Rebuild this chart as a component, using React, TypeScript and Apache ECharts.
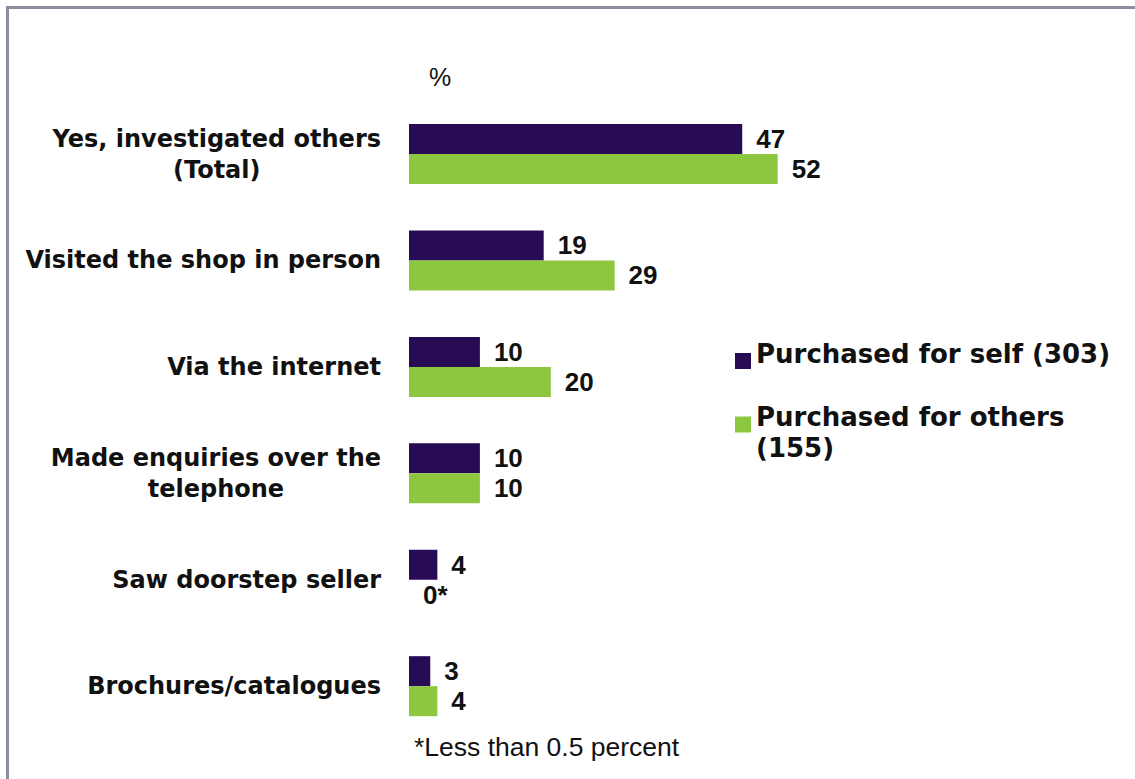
import React, { useEffect, useRef } from "react";
import * as echarts from "echarts";

const categories = [
  "Yes, investigated others\n(Total)",
  "Visited the shop in person",
  "Via the internet",
  "Made enquiries over the\ntelephone",
  "Saw doorstep seller",
  "Brochures/catalogues",
];
const selfValues = [47, 19, 10, 10, 4, 3];
const othersValues = [52, 29, 20, 10, 0, 4];
const othersLabels = ["52", "29", "20", "10", "0*", "4"];
const seriesNames = ["Purchased for self (303)", "Purchased for others (155)"];
const unitLabel = "%";
const footnote = "*Less than 0.5 percent";

const PURPLE = "#280b55";
const GREEN = "#8dc63f";

export default function App() {
  const ref = useRef<HTMLDivElement>(null);
  useEffect(() => {
    if (!ref.current) return;
    const chart = echarts.init(ref.current, null, { renderer: "svg" });
    const labelStyle = {
      show: true,
      position: "right" as const,
      distance: 14,
      fontFamily: "Liberation Sans",
      fontWeight: "bold" as const,
      fontSize: 26,
      color: "#111",
    };
    const legendText = {
      fontFamily: "DejaVu Sans",
      fontWeight: "bold",
      fontSize: 26,
      lineHeight: 31,
      color: "#111",
      rich: {
        a: {
          fontFamily: "DejaVu Sans",
          fontWeight: "bold",
          fontSize: 26,
          lineHeight: 31,
          color: "#111",
        },
        sp: { fontSize: 8, lineHeight: 16 },
        sp2: { fontSize: 8, lineHeight: 14 },
      },
    };
    const legendCommon = {
      orient: "vertical",
      left: 735,
      padding: 0,
      itemWidth: 16,
      itemHeight: 16,
      icon: "rect",
      selectedMode: false,
      textStyle: legendText,
    };
    chart.setOption({
      animation: false,
      backgroundColor: "#fff",
      title: [
        {
          text: unitLabel,
          left: 429,
          top: 64,
          padding: 0,
          textStyle: { fontFamily: "Liberation Sans", fontWeight: "normal", fontSize: 25, color: "#111" },
        },
        {
          text: footnote,
          left: 414,
          top: 733,
          padding: 0,
          textStyle: { fontFamily: "Liberation Sans", fontWeight: "normal", fontSize: 26.5, color: "#111" },
        },
      ],
      graphic: [
        {
          type: "rect",
          shape: { x: 7.5, y: 7.5, width: 1200, height: 900 },
          style: { fill: "none", stroke: "#8e8c9f", lineWidth: 3 },
          silent: true,
        },
      ],
      legend: [
        {
          ...legendCommon,
          top: 338.5,
          data: [seriesNames[0]],
          formatter: (name: string) => `{a|${name}}\n{sp2| }`,
        },
        {
          ...legendCommon,
          top: 385.5,
          data: [seriesNames[1]],
          formatter: (name: string) => {
            const [l1, l2] = name.replace("others (155)", "others\n(155)").split("\n");
            return `{sp| }\n{a|${l1}}\n{a|${l2}}`;
          },
        },
      ],
      grid: { left: 409, top: 100.8, width: 425.4, height: 638.6, containLabel: false },
      xAxis: {
        type: "value",
        min: 0,
        max: 60,
        show: false,
      },
      yAxis: {
        type: "category",
        inverse: true,
        data: categories,
        axisLine: { show: false },
        axisTick: { show: false },
        splitLine: { show: false },
        axisLabel: {
          margin: 28,
          formatter: (v: string) => v.split("\n").map((l) => `{c|${l}}`).join("\n"),
          rich: {
            c: {
              align: "center",
              fontFamily: "DejaVu Sans",
              fontWeight: "bold",
              fontSize: 24,
              lineHeight: 31,
              color: "#111",
            },
          },
        },
      },
      series: [
        {
          name: seriesNames[0],
          type: "bar",
          data: selfValues,
          barWidth: 30,
          barGap: "0%",
          itemStyle: { color: PURPLE },
          label: labelStyle,
        },
        {
          name: seriesNames[1],
          type: "bar",
          data: othersValues,
          barWidth: 30,
          barGap: "0%",
          itemStyle: { color: GREEN },
          label: { ...labelStyle, formatter: (p: any) => othersLabels[p.dataIndex] },
        },
      ],
    });
    return () => chart.dispose();
  }, []);
  return (
    <div
      ref={ref}
      style={{ position: "absolute", left: 0, top: 0, width: 1135, height: 779 }}
    />
  );
}
